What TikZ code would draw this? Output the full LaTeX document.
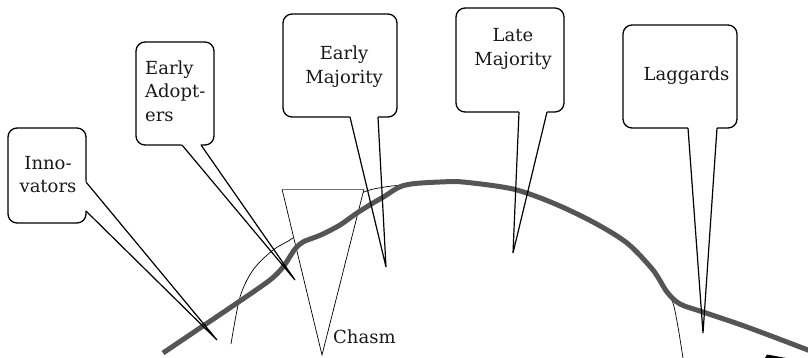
\documentclass[tikz,border=0pt]{standalone}
\usepackage{fontspec}
\setmainfont{DejaVu Serif}
\usetikzlibrary{calc}
\definecolor{curvegray}{RGB}{85,85,85}
\definecolor{txt}{RGB}{25,25,25}
\begin{document}
\begin{tikzpicture}[x=1pt,y=-1pt,
  box/.style={draw=black,line width=1.3pt,rounded corners=9pt,inner sep=0pt},
  lbl/.style={font=\fontsize{18}{23.5}\selectfont,inner sep=0pt,text=txt},
  tail/.style={draw=black,line width=1.2pt,line join=miter},
  thickcurve/.style={draw=curvegray,line width=5pt},
  thincurve/.style={draw=black,line width=0.7pt}]
\useasboundingbox (0,0) rectangle (808,357);
\clip (0,0) rectangle (808,357);

% boxes
\node[box,minimum width=78pt,minimum height=95pt]  (inn) at (47,175.5) {};
\node[box,minimum width=78pt,minimum height=103pt] (ea)  at (175,93.5) {};
\node[box,minimum width=114pt,minimum height=103pt] (em) at (340,65.5) {};
\node[box,minimum width=108pt,minimum height=104pt] (lm) at (510,60) {};
\node[box,minimum width=114pt,minimum height=103pt] (lag) at (680,76.5) {};

% tail points
\coordinate (inn-b1) at (86,182);  \coordinate (inn-b2) at (86,211);  \coordinate (inn-tip) at (217,340);
\coordinate (ea-b1) at (182,145);  \coordinate (ea-b2) at (201,145);  \coordinate (ea-tip) at (295,280);
\coordinate (em-b1) at (350,117);  \coordinate (em-b2) at (378,117);  \coordinate (em-tip) at (386,267);
\coordinate (lm-b1) at (519,112);  \coordinate (lm-b2) at (547,112);  \coordinate (lm-tip) at (513,253);
\coordinate (lag-b1) at (688,128); \coordinate (lag-b2) at (717,128); \coordinate (lag-tip) at (703,333);

% open the box borders where the tails join
\foreach \n in {inn,ea,em,lm,lag}{
  \fill[white] ($(\n-b1)!-3pt!(\n-tip)$) -- (\n-tip) -- ($(\n-b2)!-3pt!(\n-tip)$) -- cycle;
}

% thin bell curve
\draw[thincurve] plot[smooth] coordinates {(231,344) (240,297) (253,270) (273,250) (293,238) (330,211) (364,192) (385,187) (402,185) (440,181.5) (463,182) (513,189) (553,203) (593,222) (627,243) (650,265) (665,288) (673,303) (678,327) (683,358)};

% chasm
\coordinate (ch-l) at (282,189);
\coordinate (ch-r) at (364,189);
\coordinate (ch-t) at (322,355);
\fill[white] (ch-l) -- (ch-r) -- (ch-t) -- cycle;
\draw[black,line width=0.7pt] (ch-r) -- (ch-t) -- (ch-l);
\draw[black!55,line width=0.9pt] (ch-l) -- (ch-r);
\node[lbl,anchor=west] (chasm) at (333,337) {Chasm};

% thick adoption curve
\draw[thickcurve] plot[smooth] coordinates {(163,353) (203,326) (240,301) (270,280) (283,267) (295,249) (303,242) (313,238) (323,234) (340,225) (357,213) (373,203) (385,196) (394,190) (402,186) (415,183.5) (440,182) (463,182) (513,189) (553,203) (593,222) (627,243) (653,270) (667,292) (680,304) (703,312) (747,327) (808,350) (830,359)};

% axis arrow head (partly visible)
\fill[black] (765,358) -- (767,354.5) -- (786,358) -- cycle;

% tails
\foreach \n in {inn,ea,em,lm,lag}{
  \draw[tail] (\n-b1) -- (\n-tip) -- (\n-b2);
}

% labels
\node[lbl,align=center] (inn-t) at (48,174.5) {Inno-\\vators};
\node[lbl,align=left,anchor=west] (ea-t) at (145,91) {Early\\Adopt-\\ers};
\node[lbl,align=center] (em-t) at (344,66.5) {Early\\Majority};
\node[lbl,align=center] (lm-t) at (513,49) {Late\\Majority};
\node[lbl] (lag-t) at (686.5,76) {Laggards};
\end{tikzpicture}
\end{document}
